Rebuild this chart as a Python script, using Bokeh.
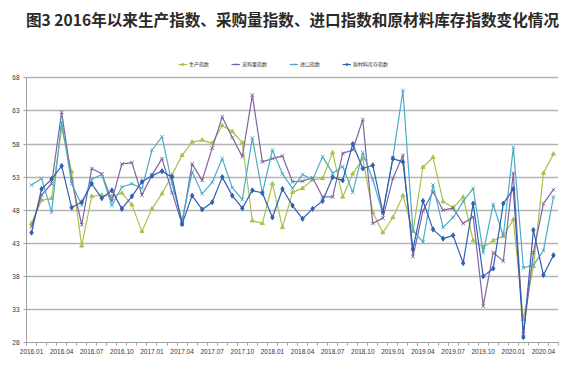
from bokeh.plotting import figure
from bokeh.models import (Range1d, FixedTicker, Legend, LegendItem)
from bokeh.embed import file_html
from bokeh.resources import INLINE

months = ["2016.01","2016.02","2016.03","2016.04","2016.05","2016.06","2016.07","2016.08","2016.09","2016.10","2016.11","2016.12",
          "2017.01","2017.02","2017.03","2017.04","2017.05","2017.06","2017.07","2017.08","2017.09","2017.10","2017.11","2017.12",
          "2018.01","2018.02","2018.03","2018.04","2018.05","2018.06","2018.07","2018.08","2018.09","2018.10","2018.11","2018.12",
          "2019.01","2019.02","2019.03","2019.04","2019.05","2019.06","2019.07","2019.08","2019.09","2019.10","2019.11","2019.12",
          "2020.01","2020.02","2020.03","2020.04","2020.05"]

production = [46.0, 49.5, 49.8, 60.4, 53.8, 42.6, 50.1, 50.3, 50.1, 50.6, 48.8, 44.8,
              48.2, 50.5, 53.3, 56.3, 58.3, 58.6, 58.1, 60.8, 59.9, 58.2, 46.4, 46.0,
              52.0, 45.4, 50.7, 51.3, 52.6, 52.8, 56.7, 50.0, 53.5, 55.8, 47.7, 44.6,
              46.9, 50.2, 44.8, 54.5, 56.0, 49.3, 48.4, 50.0, 43.4, 42.4, 43.4, 44.1,
              46.6, 31.5, 39.5, 53.6, 56.5]
purchase = [45.5, 50.3, 52.0, 62.8, 52.6, 45.8, 54.3, 53.5, 49.4, 55.0, 55.2, 50.3,
            53.3, 55.8, 50.7, 45.9, 55.0, 52.5, 57.4, 62.1, 59.0, 56.1, 65.4, 55.3,
            55.8, 56.2, 52.3, 52.4, 52.9, 50.0, 50.0, 56.6, 57.1, 61.7, 46.0, 46.8,
            52.8, 56.3, 41.0, 47.9, 50.8, 48.0, 48.3, 46.0, 47.0, 33.5, 41.6, 40.3,
            53.6, 29.3, 41.6, 49.0, 51.1]
imports = [51.8, 52.8, 47.7, 61.4, 52.0, 48.8, 52.7, 53.4, 48.7, 51.5, 52.0, 51.3,
           57.1, 59.1, 52.0, 46.4, 53.8, 50.5, 52.2, 55.8, 51.4, 49.6, 58.9, 50.6,
           57.1, 53.5, 51.3, 53.4, 52.6, 56.1, 53.6, 54.6, 50.7, 56.7, 52.6, 47.5,
           55.9, 66.1, 44.9, 43.2, 51.8, 45.4, 46.9, 49.3, 51.3, 41.6, 48.9, 44.1,
           57.5, 39.3, 39.7, 41.9, 50.0]
inventory = [44.6, 51.2, 52.7, 54.7, 48.4, 49.2, 52.0, 49.8, 51.0, 48.2, 50.1, 52.3,
             53.2, 53.9, 53.0, 45.9, 50.2, 48.1, 49.2, 53.0, 50.2, 48.3, 51.0, 50.6,
             46.9, 51.2, 48.7, 46.7, 48.2, 49.4, 53.0, 52.5, 58.0, 54.3, 54.8, 47.7,
             55.8, 55.3, 42.1, 49.4, 45.1, 43.7, 44.2, 40.0, 49.0, 38.0, 39.2, 49.0,
             51.2, 28.8, 45.0, 38.2, 41.2]

series_names = ["生产指数", "采购量指数", "进口指数", "原材料库存指数"]
y_ticks = [28, 33, 38, 43, 48, 53, 58, 63, 68]
title_text = "图3 2016年以来生产指数、采购量指数、进口指数和原材料库存指数变化情况"

colors = ["#a9c24c", "#8064a2", "#4bacc6", "#2f5fb0"]
markers = ["triangle", "x", "x", "diamond"]
msizes = [4, 5, 5, 5]

x = list(range(len(months)))

p = figure(width=560, height=356, output_backend="svg", toolbar_location=None,
           x_range=Range1d(-0.5, len(months) - 0.5), y_range=Range1d(28, 74.56),
           min_border_left=26, min_border_right=2, min_border_top=0, min_border_bottom=14,
           title=title_text)
p.outline_line_color = None
p.background_fill_color = "white"
p.border_fill_color = "white"

p.title.align = "center"
p.title.text_font_size = "15.6px"
p.title.text_font = "Noto Sans CJK SC"
p.title.text_font_style = "bold"
p.title.text_color = "#2a2a2a"
p.title.standoff = 10
p.title.offset = -8

# grid
p.xgrid.grid_line_color = None
p.ygrid.grid_line_color = "#b4b4b4"
p.ygrid.grid_line_width = 1.5

# y axis
p.yaxis.ticker = FixedTicker(ticks=y_ticks)
p.yaxis.bounds = (28, 68)
p.yaxis.axis_line_color = "#a0a0a0"
p.yaxis.major_tick_line_color = "#a0a0a0"
p.yaxis.major_tick_out = 3
p.yaxis.major_tick_in = 0
p.yaxis.minor_tick_line_color = None
p.yaxis.major_label_text_font_size = "6.5px"
p.yaxis.major_label_text_color = "#333333"
p.yaxis.major_label_text_font = "Liberation Sans"
p.yaxis.major_label_standoff = 4

# x axis
tick_idx = list(range(0, len(months), 3))
p.xaxis.ticker = FixedTicker(ticks=tick_idx, minor_ticks=[i + 0.5 for i in range(-1, len(months))])
p.xaxis.major_label_overrides = {i: months[i] for i in tick_idx}
p.xaxis.axis_line_color = "#a0a0a0"
p.xaxis.major_tick_line_color = None
p.xaxis.major_tick_out = 3
p.xaxis.minor_tick_line_color = "#a0a0a0"
p.xaxis.minor_tick_out = 3
p.xaxis.minor_tick_in = 0
p.xaxis.major_label_text_font_size = "6.5px"
p.xaxis.major_label_text_color = "#333333"
p.xaxis.major_label_text_font = "Liberation Sans"
p.xaxis.major_label_standoff = 3

items = []
for name, ys, c, m, s in zip(series_names, [production, purchase, imports, inventory], colors, markers, msizes):
    ln = p.line(x, ys, line_color=c, line_width=1.2)
    sc = p.scatter(x, ys, marker=m, size=s, line_color=c, fill_color=c, line_width=1)
    items.append(LegendItem(label=name, renderers=[ln, sc]))

legend = Legend(items=items, orientation="horizontal", location=(152, 275),
                label_text_font_size="5px", label_text_font="Noto Sans CJK SC",
                label_text_color="#333333",
                glyph_width=9, glyph_height=6, label_standoff=2, spacing=22,
                padding=0, margin=0, border_line_color=None, background_fill_alpha=0)
p.add_layout(legend, "center")

open("out.html", "w").write(file_html(p, INLINE))
